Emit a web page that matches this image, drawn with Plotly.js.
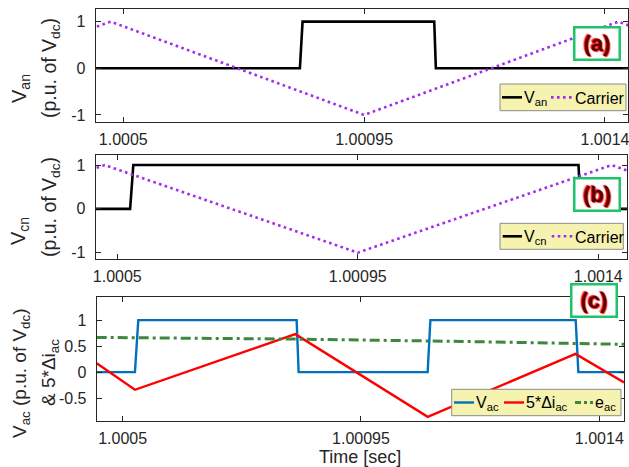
<!DOCTYPE html>
<html><head><meta charset="utf-8">
<script src="https://cdn.plot.ly/plotly-3.0.1.min.js"></script>
<style>html,body{margin:0;padding:0;background:#fff}</style>
</head><body><div id="chart" style="width:629px;height:467px"></div>
<script>
// ---- data ----
const carrierT = [1.00044, 1.0004765, 1.00095, 1.001425, 1.00146];
const carrierV = [0.85, 1, -1, 1, 0.85];
const vanT = [1.00044, 1.00083, 1.000835, 1.001081, 1.001084, 1.00146];
const vanV = [0, 0, 1, 1, 0, 0];
const vcnT = [1.00044, 1.000524, 1.00053, 1.001363, 1.001367, 1.00146];
const vcnV = [0, 0, 1, 1, 0, 0];
const vacT = [1.00044, 1.0005232, 1.0005295, 1.0008285, 1.0008323, 1.0010759, 1.001081, 1.0013554, 1.0013604, 1.00146];
const vacV = [0, 0, 1, 1, 0, 0, 1, 1, 0, 0];
const diT = [1.000451, 1.0005232, 1.000826, 1.001076, 1.001355, 1.0014466];
const diV = [0.17, -0.34, 0.73, -0.86, 0.35, -0.2];
const eacT = [1.000451, 1.000826, 1.00114, 1.0014466];
const eacV = [0.667, 0.635, 0.59, 0.535];
const xTickVals = [1.0005, 1.00095, 1.0014];
const xTickText = ['1.0005', '1.00095', '1.0014'];
const yTickAB = [-1, 0, 1];
const yTickC = [-0.5, 0, 0.5, 1];
const yTickCText = ['-0.5', '0', '0.5', '1'];

// ---- styling ----
const W = 629, H = 467;
const px = v => v / W;
const py = v => 1 - v / H;
const FONT = 'Arial, "Liberation Sans", sans-serif';
const AX = '#262626';
const C_BLK = '#000000', C_PUR = '#a02cf0', C_BLU = '#0072bd', C_RED = '#ff0000', C_GRN = '#3f873f';

const traces = [
  {x: vanT, y: vanV, xaxis: 'x', yaxis: 'y', name: 'V<sub>an</sub>', mode: 'lines', line: {color: C_BLK, width: 2.6}},
  {x: carrierT, y: carrierV, xaxis: 'x', yaxis: 'y', name: 'Carrier', mode: 'lines', line: {color: C_PUR, width: 2.6, dash: '2.6px,3.4px'}},
  {x: vcnT, y: vcnV, xaxis: 'x2', yaxis: 'y2', name: 'V<sub>cn</sub>', mode: 'lines', line: {color: C_BLK, width: 2.6}},
  {x: carrierT, y: carrierV, xaxis: 'x2', yaxis: 'y2', name: 'Carrier', mode: 'lines', line: {color: C_PUR, width: 2.6, dash: '2.6px,3.4px'}},
  {x: vacT, y: vacV, xaxis: 'x3', yaxis: 'y3', name: 'V<sub>ac</sub>', mode: 'lines', line: {color: C_BLU, width: 2.4}},
  {x: diT, y: diV, xaxis: 'x3', yaxis: 'y3', name: '5*Δi<sub>ac</sub>', mode: 'lines', line: {color: C_RED, width: 2.4}},
  {x: eacT, y: eacV, xaxis: 'x3', yaxis: 'y3', name: 'e<sub>ac</sub>', mode: 'lines', line: {color: C_GRN, width: 3, dash: '10px,4px,3px,4px'}}
];

function xax(dom, rng, anchor) {
  return {domain: dom, range: rng, anchor: anchor, tickvals: xTickVals, ticktext: xTickText,
    ticks: 'inside', ticklen: 5, tickcolor: AX, mirror: 'allticks', showline: true, linecolor: AX, linewidth: 1,
    showgrid: false, zeroline: false, tickfont: {family: FONT, size: 16, color: AX},
    ticklabelstandoff: 3, ticklabeloverflow: 'allow'};
}
function yax(dom, rng, anchor, tv, tt) {
  return {domain: dom, range: rng, anchor: anchor, tickvals: tv, ticktext: tt,
    ticks: 'inside', ticklen: 5, tickcolor: AX, mirror: 'allticks', showline: true, linecolor: AX, linewidth: 1,
    showgrid: false, zeroline: false, tickfont: {family: FONT, size: 16, color: AX}, ticklabelstandoff: 6};
}

const shapes = [];
const annotations = [];

function ytitle(x, y, text, size) {
  annotations.push({xref: 'paper', yref: 'paper', x: px(x), y: py(y), text: text, showarrow: false,
    textangle: -90, xanchor: 'center', yanchor: 'middle', font: {family: FONT, size: size, color: AX}});
}
ytitle(20, 89, 'V<sub>an</sub>', 20);
ytitle(50, 68, '(p.u. of V<sub>dc</sub>)', 19.5);
ytitle(20, 231, 'V<sub>cn</sub>', 20);
ytitle(50, 207, '(p.u. of V<sub>dc</sub>)', 19.5);
ytitle(21, 374, 'V<sub>ac</sub> (p.u. of V<sub>dc</sub>)', 19);
ytitle(50, 373, '&amp; 5*Δi<sub>ac</sub>', 19);

annotations.push({xref: 'paper', yref: 'paper', x: px(360), y: py(457), text: 'Time [sec]', showarrow: false,
  xanchor: 'center', yanchor: 'middle', font: {family: FONT, size: 18, color: AX}});

function label(cx, cy, text) {
  annotations.push({xref: 'paper', yref: 'paper', x: px(cx), y: py(cy), text: '<b>' + text + '</b>', showarrow: false,
    xanchor: 'center', yanchor: 'middle', width: 43, height: 30, borderpad: 0, borderwidth: 2.5,
    bordercolor: '#1ec36a', bgcolor: '#ffffff',
    font: {family: FONT, size: 22, color: '#5a0000', shadow: '1px 1px 1px #ff1a1a, -1px -1px 1px #ff1a1a'}});
}
label(596.7, 43.7, '(a)');
label(597, 194, '(b)');
label(594.2, 300.7, '(c)');

function legend(x0, x1, y0, y1, items) {
  shapes.push({type: 'rect', xref: 'paper', yref: 'paper', x0: px(x0), x1: px(x1), y0: py(y0), y1: py(y1),
    fillcolor: '#f6f2b0', line: {color: '#8c8c8c', width: 1}});
  const ym = (y0 + y1) / 2;
  items.forEach(it => {
    shapes.push({type: 'line', xref: 'paper', yref: 'paper', x0: px(it.l0), x1: px(it.l1), y0: py(ym), y1: py(ym),
      line: {color: it.color, width: it.width, dash: it.dash || 'solid'}});
    annotations.push({xref: 'paper', yref: 'paper', x: px(it.t), y: py(ym + 1), text: it.text, showarrow: false,
      xanchor: 'left', yanchor: 'middle', borderpad: 0, font: {family: FONT, size: 16, color: '#000'}});
  });
}
legend(500, 626, 84, 110.7, [
  {l0: 502, l1: 522, color: C_BLK, width: 2.6, t: 523, text: traces[0].name},
  {l0: 551, l1: 573, color: C_PUR, width: 2.6, dash: '2.6px,3.4px', t: 574, text: traces[1].name}
]);
legend(500, 623.3, 223.3, 249.3, [
  {l0: 502.7, l1: 522, color: C_BLK, width: 2.6, t: 523, text: traces[2].name},
  {l0: 551.7, l1: 573.3, color: C_PUR, width: 2.6, dash: '2.6px,3.4px', t: 574, text: traces[3].name}
]);
legend(451.7, 621, 389.3, 415.7, [
  {l0: 454, l1: 474, color: C_BLU, width: 2.4, t: 475, text: traces[4].name},
  {l0: 504, l1: 524, color: C_RED, width: 2.4, t: 525, text: traces[5].name},
  {l0: 575, l1: 593, color: C_GRN, width: 3, dash: '6px,3px,3px,3px', t: 594, text: traces[6].name}
]);

const layout = {
  width: W, height: H, margin: {l: 0, r: 0, t: 0, b: 0}, showlegend: false,
  paper_bgcolor: '#fff', plot_bgcolor: '#fff', font: {family: FONT, color: AX},
  xaxis: xax([px(95.7), px(628)], [1.0004485, 1.001443], 'y'),
  yaxis: yax([py(121.7), py(9.3)], [-1.145, 1.265], 'x', yTickAB, ['-1', '0', '1']),
  xaxis2: xax([px(95.7), px(627.3)], [1.0004596, 1.0014543], 'y2'),
  yaxis2: yax([py(259), py(155)], [-1.145, 1.23], 'x2', yTickAB, ['-1', '0', '1']),
  xaxis3: xax([px(96.7), px(624)], [1.000451, 1.0014466], 'y3'),
  yaxis3: yax([py(421), py(296.7)], [-0.94, 1.45], 'x3', yTickC, yTickCText),
  shapes: shapes, annotations: annotations
};
Plotly.newPlot('chart', traces, layout, {displayModeBar: false, staticPlot: true});
</script></body></html>
